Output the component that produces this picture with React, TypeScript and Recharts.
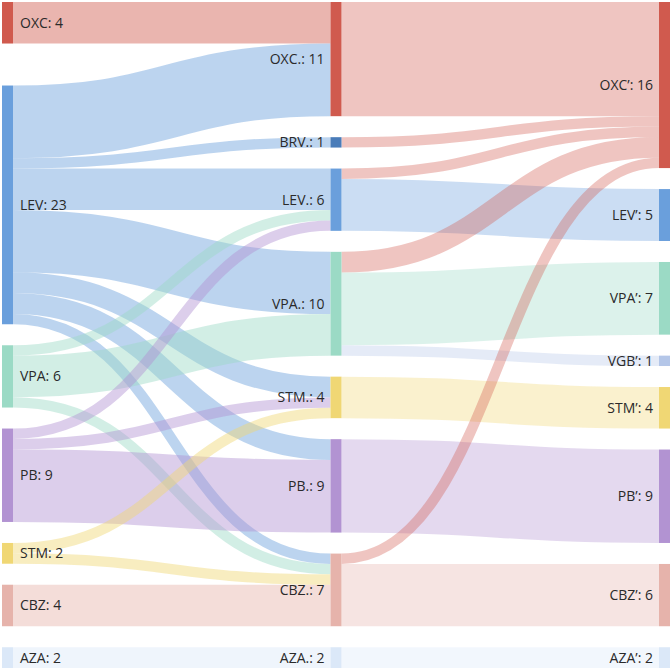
import { Sankey } from 'recharts'

// Drug colours (by drug, regardless of column)
const drugColors: Record<string, string> = {
  OXC: '#d05a4e',
  LEV: '#6a9fdc',
  VPA: '#9bdac5',
  PB: '#b293d2',
  STM: '#f0d774',
  CBZ: '#e6b3ab',
  AZA: '#dbe8f8',
  BRV: '#4a7cb9',
  VGB: '#b4c6e8',
}

// Columns, top to bottom. The empty name is a spacer that only keeps the gap under OXC.
const firstColumn = ['OXC', '', 'LEV', 'VPA', 'PB', 'STM', 'CBZ', 'AZA']
const secondColumn = ['OXC.', 'BRV.', 'LEV.', 'VPA.', 'STM.', 'PB.', 'CBZ.', 'AZA.']
const thirdColumn = ['OXC’', 'LEV’', 'VPA’', 'VGB’', 'STM’', 'PB’', 'CBZ’', 'AZA’']

// first switch: [from, to, patients]
const firstSwitch: [string, string, number][] = [
  ['OXC', 'OXC.', 4],
  ['', 'BRV.', 0],
  ['LEV', 'OXC.', 7],
  ['LEV', 'BRV.', 1],
  ['LEV', 'LEV.', 4],
  ['LEV', 'VPA.', 6],
  ['LEV', 'STM.', 2],
  ['LEV', 'PB.', 2],
  ['LEV', 'CBZ.', 1],
  ['VPA', 'LEV.', 1],
  ['VPA', 'VPA.', 4],
  ['VPA', 'CBZ.', 1],
  ['PB', 'LEV.', 1],
  ['PB', 'STM.', 1],
  ['PB', 'PB.', 7],
  ['STM', 'STM.', 1],
  ['STM', 'CBZ.', 1],
  ['CBZ', 'CBZ.', 4],
  ['AZA', 'AZA.', 2],
]

// second switch: [from, to, patients]
const secondSwitch: [string, string, number][] = [
  ['OXC.', 'OXC’', 11],
  ['BRV.', 'OXC’', 1],
  ['LEV.', 'OXC’', 1],
  ['LEV.', 'LEV’', 5],
  ['VPA.', 'OXC’', 2],
  ['VPA.', 'VPA’', 7],
  ['VPA.', 'VGB’', 1],
  ['STM.', 'STM’', 4],
  ['PB.', 'PB’', 9],
  ['CBZ.', 'OXC’', 1],
  ['CBZ.', 'CBZ’', 6],
  ['AZA.', 'AZA’', 2],
]

const drugOf = (name: string) => name.replace(/[.’]/g, '')

const nodeNames = [...firstColumn, ...secondColumn, ...thirdColumn]

const data = {
  nodes: nodeNames.map(name => ({ name, color: drugColors[drugOf(name)] || 'none' })),
  links: [
    // first layer takes the colour of where patients came from
    ...firstSwitch.map(([from, to, value]) => ({
      source: nodeNames.indexOf(from),
      target: nodeNames.indexOf(to),
      value,
      color: drugColors[drugOf(from)] || 'none',
      opacity: 0.45,
    })),
    // second layer takes the colour of where they went
    ...secondSwitch.map(([from, to, value]) => ({
      source: nodeNames.indexOf(from),
      target: nodeNames.indexOf(to),
      value,
      color: drugColors[drugOf(to)],
      opacity: 0.35,
    })),
  ],
}

const DrugNode = (props: any) => {
  const { x, y, width, height, payload } = props
  if (!payload.name) return <g />
  const first = payload.depth === 0
  return (
    <g>
      <rect x={x} y={y} width={width} height={height} fill={payload.color} />
      <text
        x={first ? x + width + 7 : x - 6}
        y={y + height / 2}
        dy="0.35em"
        textAnchor={first ? 'start' : 'end'}
        fontSize={14}
        fontFamily="'Open Sans', sans-serif"
        fill="#2a2a2a"
      >
        {`${payload.name}: ${payload.value}`}
      </text>
    </g>
  )
}

const FlowLink = (props: any) => {
  const { sourceX, targetX, sourceY, targetY, sourceControlX, targetControlX, linkWidth, payload } = props
  if (!linkWidth) return <g />
  return (
    <path
      d={`M${sourceX},${sourceY}C${sourceControlX},${sourceY} ${targetControlX},${targetY} ${targetX},${targetY}`}
      fill="none"
      stroke={payload.color}
      strokeOpacity={payload.opacity}
      strokeWidth={linkWidth}
    />
  )
}

export default function App() {
  return (
    <div style={{ position: 'absolute', left: 0, top: 0, width: 672, height: 671, background: '#fff' }}>
      <Sankey
        width={672}
        height={671}
        data={data}
        nodeWidth={11}
        nodePadding={21}
        iterations={0}
        margin={{ top: 2, right: 2, bottom: 3, left: 2 }}
        node={<DrugNode />}
        link={<FlowLink />}
      />
    </div>
  )
}
